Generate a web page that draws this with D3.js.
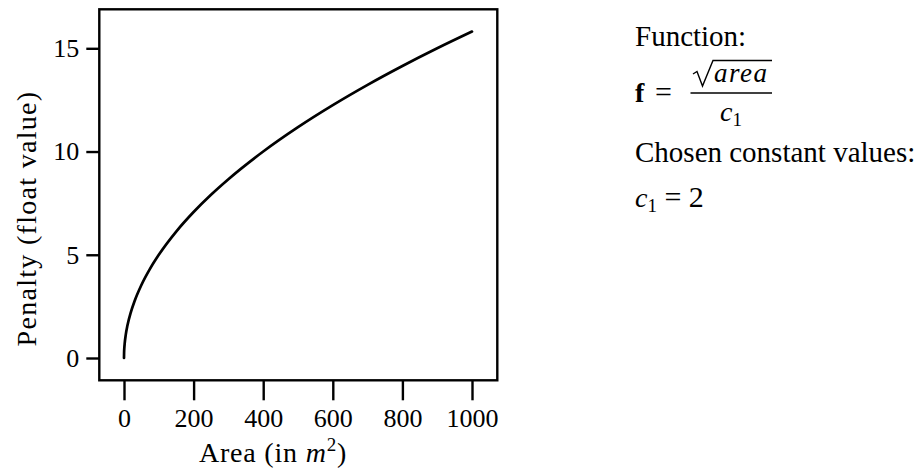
<!DOCTYPE html>
<html><head><meta charset="utf-8">
<script src="https://cdn.jsdelivr.net/npm/d3@7"></script>
<style>
html,body{margin:0;padding:0;background:#fff;}
svg{display:block;}
text{font-family:"Liberation Serif","Times New Roman",serif;fill:#000;}
</style></head>
<body>
<svg id="chart" width="916" height="470"></svg>
<script>
// Data
const areaValues    = [0, 0.25, 1, 2, 5, 10, 20, 30, 50, 75, 100, 150, 200, 250, 300, 400, 500, 600, 700, 800, 900, 1000];
const penaltyValues = [0, 0.25, 0.5, 0.707, 1.118, 1.581, 2.236, 2.739, 3.536, 4.330, 5.0, 6.124, 7.071, 7.906, 8.660, 10.0, 11.180, 12.247, 13.229, 14.142, 15.0, 15.811];
const xTickValues = [0, 200, 400, 600, 800, 1000];
const yTickValues = [0, 5, 10, 15];
const xTitle = "Area (in ";
const yTitle = "Penalty (float value)";

const svg = d3.select("#chart");
const box = {left: 99.3, right: 497.3, top: 9.3, bottom: 380.3};

const x = d3.scaleLinear().domain([0, 1000]).range([124, 472]);
const y = d3.scaleLinear().domain([0, 15]).range([358, 48.3]);

// frame
svg.append("rect")
  .attr("x", box.left).attr("y", box.top)
  .attr("width", box.right - box.left).attr("height", box.bottom - box.top)
  .attr("fill", "none").attr("stroke", "#000").attr("stroke-width", 2.4);

// x axis (ticks outside the frame)
const gx = svg.append("g").attr("transform", `translate(0,${box.bottom})`)
  .call(d3.axisBottom(x).tickValues(xTickValues).tickSize(20).tickPadding(8).tickFormat(d3.format("d")));
gx.select(".domain").remove();
gx.selectAll(".tick line").attr("stroke", "#000").attr("stroke-width", 2.4);
gx.selectAll(".tick text").attr("font-size", 26).attr("font-family", "Liberation Serif, serif").attr("fill", "#000");

// y axis
const gy = svg.append("g").attr("transform", `translate(${box.left},0)`)
  .call(d3.axisLeft(y).tickValues(yTickValues).tickSize(13).tickPadding(7).tickFormat(d3.format("d")));
gy.select(".domain").remove();
gy.selectAll(".tick line").attr("stroke", "#000").attr("stroke-width", 2.4);
gy.selectAll(".tick text").attr("font-size", 26).attr("font-family", "Liberation Serif, serif").attr("fill", "#000");

// line
const pts = areaValues.map((a, i) => [a, penaltyValues[i]]);
svg.append("path")
  .datum(pts)
  .attr("fill", "none").attr("stroke", "#000").attr("stroke-width", 2.7)
  .attr("stroke-linecap", "round")
  .attr("d", d3.line().x(d => x(d[0])).y(d => y(d[1])).curve(d3.curveMonotoneX));

// x title
const xt = svg.append("text").attr("x", 273).attr("y", 462).attr("text-anchor", "middle")
  .attr("font-size", 28).attr("letter-spacing", 0.8);
xt.append("tspan").text(xTitle);
xt.append("tspan").attr("font-style", "italic").text("m");
xt.append("tspan").attr("font-size", 19).attr("dy", -11).text("2");
xt.append("tspan").attr("dy", 11).text(")");

// y title
svg.append("text")
  .attr("transform", "translate(35.5,218.5) rotate(-90)")
  .attr("text-anchor", "middle").attr("font-size", 28).attr("letter-spacing", 1.3)
  .text(yTitle);

// annotation on the right
const fs = 29;
svg.append("text").attr("x", 635).attr("y", 46).attr("font-size", fs).text("Function:");
svg.append("text").attr("x", 635).attr("y", 102).attr("font-size", 28).attr("font-weight", "bold").text("f");
svg.append("text").attr("x", 655).attr("y", 102).attr("font-size", 30).text("=");
// numerator: sqrt(area) drawn as radical path + overline
svg.append("path")
  .attr("d", "M693,74 L697,71.5 L702.5,86 L713,60.5 L772,60.5")
  .attr("fill", "none").attr("stroke", "#000").attr("stroke-width", 1.4).attr("stroke-linejoin", "miter");
svg.append("text").attr("x", 714).attr("y", 82).attr("font-size", 27).attr("font-style", "italic")
  .attr("letter-spacing", 1.5).text("area");
// fraction bar
svg.append("line").attr("x1", 690.5).attr("x2", 772).attr("y1", 93).attr("y2", 93).attr("stroke", "#000").attr("stroke-width", 1.4);
// denominator c1
const den = svg.append("text").attr("x", 720).attr("y", 121).attr("font-size", 28);
den.append("tspan").attr("font-style", "italic").text("c");
den.append("tspan").attr("font-size", 19).attr("dy", 5).text("1");

svg.append("text").attr("x", 635).attr("y", 162).attr("font-size", fs).text("Chosen constant values:");
const cv = svg.append("text").attr("x", 635).attr("y", 207).attr("font-size", 28);
cv.append("tspan").attr("font-style", "italic").text("c");
cv.append("tspan").attr("font-size", 19).attr("dy", 5).text("1");
cv.append("tspan").attr("dy", -5).attr("font-size", 30).text(" = 2");
</script>
</body></html>
